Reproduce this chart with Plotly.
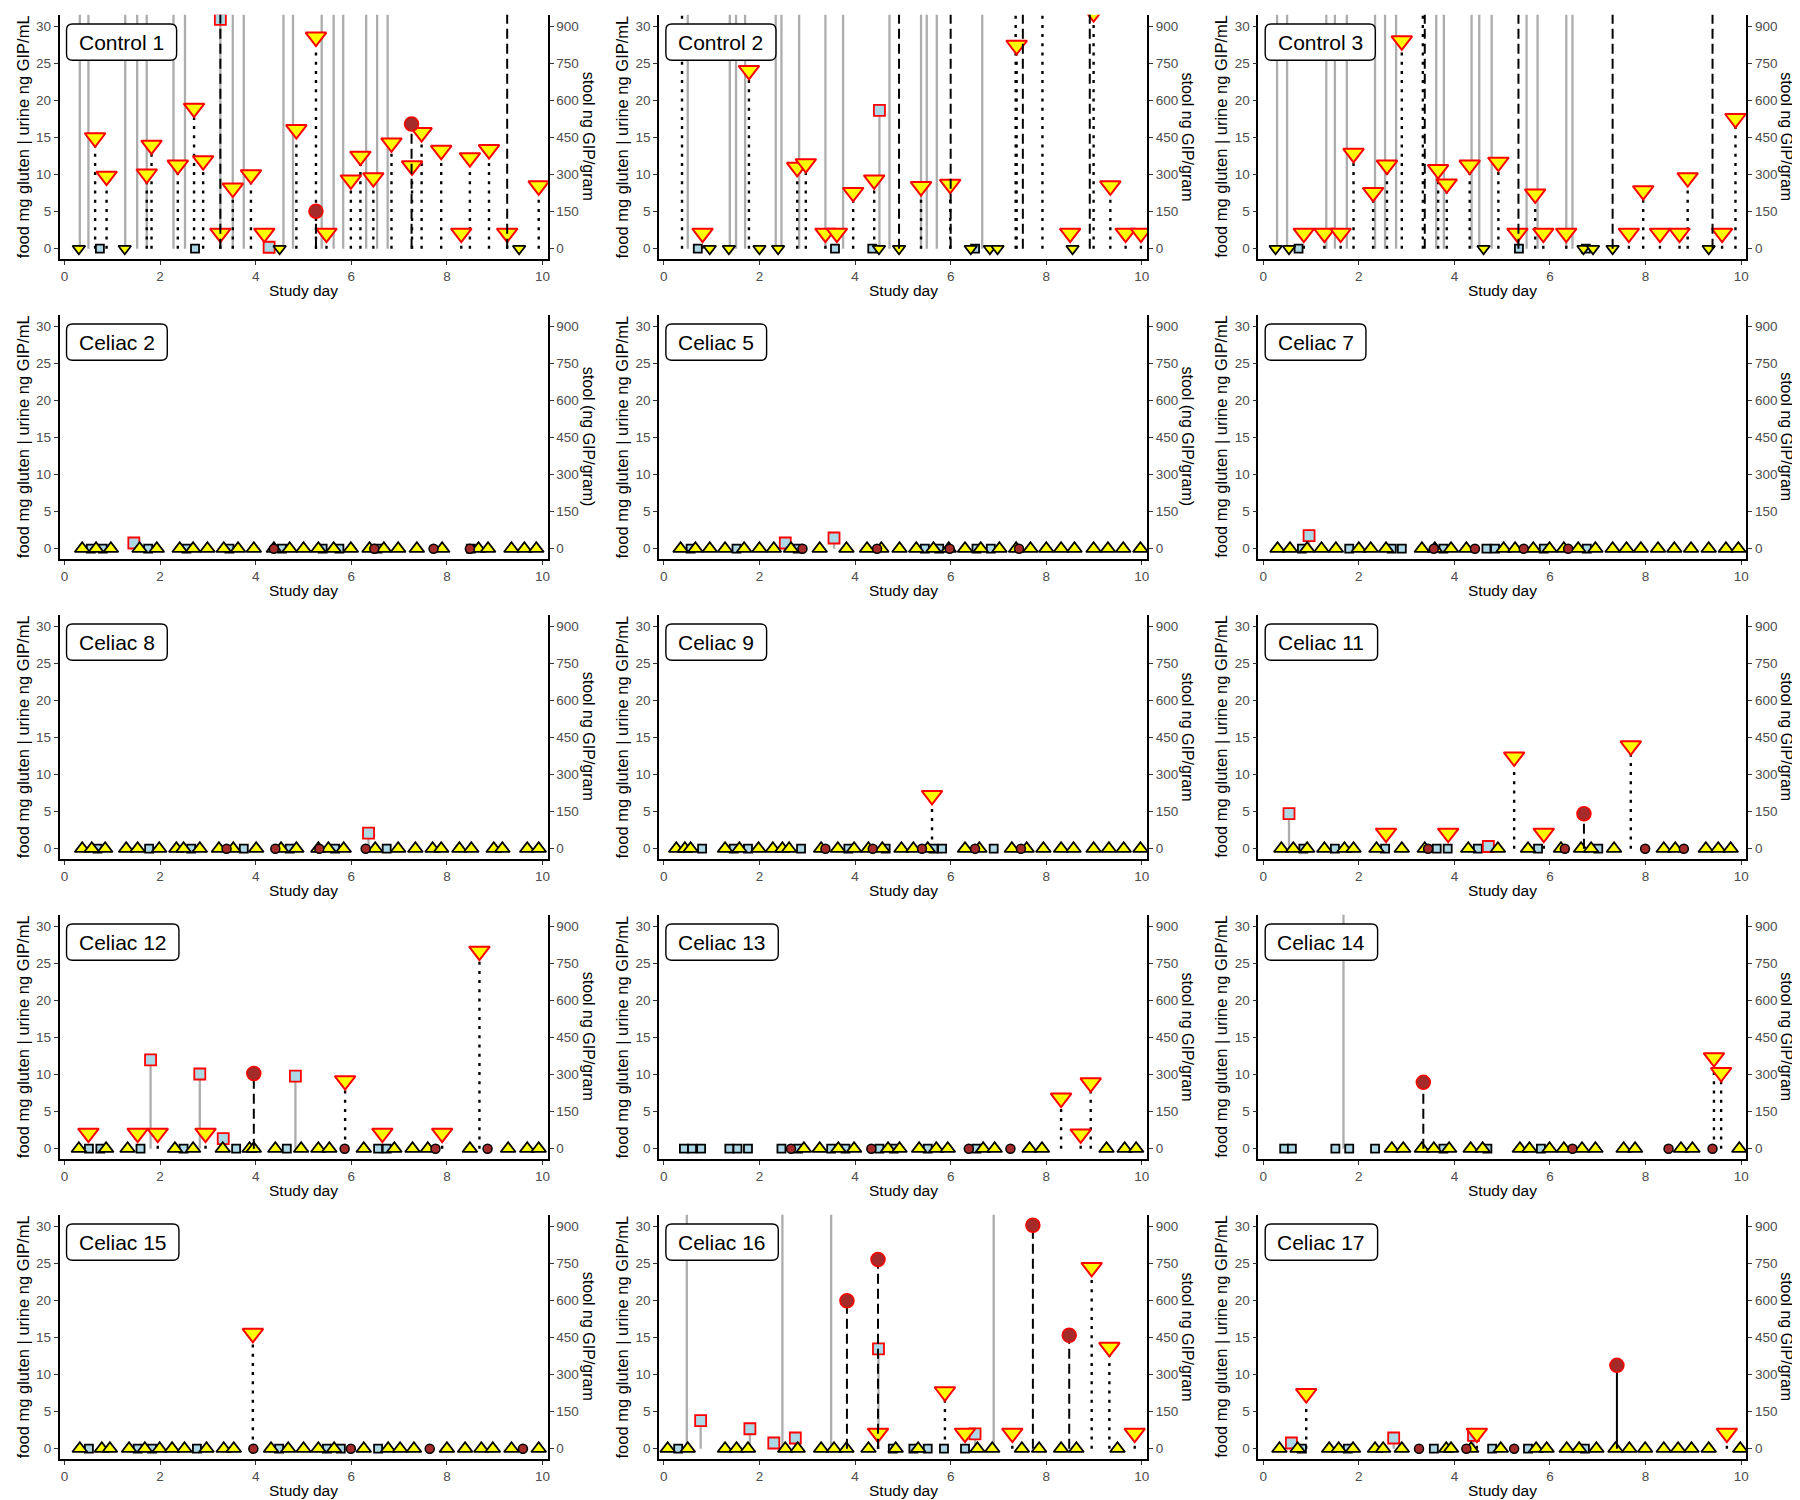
import plotly.graph_objects as go

# ---------------- data ----------------
PANEL_NAMES = ["Control 1", "Control 2", "Control 3",
               "Celiac 2", "Celiac 5", "Celiac 7",
               "Celiac 8", "Celiac 9", "Celiac 11",
               "Celiac 12", "Celiac 13", "Celiac 14",
               "Celiac 15", "Celiac 16", "Celiac 17"]

X_TICKS = [0, 2, 4, 6, 8, 10]
Y_TICKS = [0, 5, 10, 15, 20, 25, 30]
Y2_TICKS = [0, 150, 300, 450, 600, 750, 900]

# Control 1
c1_food_x = [0.64, 0.88, 1.72, 1.82, 2.37, 2.71, 2.90, 3.26, 3.52, 3.90, 4.18, 4.85, 5.26, 5.48, 5.99, 6.19, 6.46, 6.84, 7.27, 7.47, 7.88, 8.30, 8.48, 8.88, 9.26, 9.92]
c1_food_y = [15.0, 9.8, 10.1, 14.0, 11.3, 19.0, 11.9, 2.1, 8.2, 10.0, 2.1, 16.1, 28.6, 2.1, 9.3, 12.5, 9.6, 14.3, 11.2, 15.7, 13.3, 2.1, 12.3, 13.4, 2.1, 8.5]
c1_food_neg = [0.30, 1.26, 4.50, 9.51]
c1_urine_x = [0.32, 0.50, 1.27, 1.52, 1.72, 2.28, 2.52, 3.26, 3.52, 3.75, 4.28, 4.58, 4.78, 5.38, 5.63, 5.83, 6.31, 6.54, 6.76]
c1_urine_y = [40, 40, 40, 40, 40, 40, 40, 31.0, 40, 40, 0.2, 40, 40, 40, 40, 40, 40, 40, 40]
c1_urine_neg = [0.74, 2.73]
c1_stool_x = [3.26, 5.26, 7.26, 9.26]
c1_stool_y = [1200, 152, 506, 1200]
c1_stool_neg = []

# Control 2
c2_food_x = [0.38, 0.81, 1.78, 2.79, 2.97, 3.38, 3.62, 3.96, 4.40, 5.38, 5.99, 7.36, 7.38, 7.92, 8.50, 8.99, 9.34, 9.66, 9.98]
c2_food_y = [40, 2.1, 24.1, 11.0, 11.5, 2.1, 2.1, 7.6, 9.3, 8.4, 8.7, 40, 27.5, 40, 2.1, 31.9, 8.5, 2.1, 2.1]
c2_food_neg = [0.96, 1.36, 2.00, 2.39, 4.50, 4.92, 6.42, 6.82, 6.98, 8.55]
c2_urine_x = [0.50, 1.38, 1.51, 1.70, 2.34, 2.46, 2.83, 3.38, 3.75, 4.51, 4.72, 5.38, 5.50, 5.71, 6.66]
c2_urine_y = [40, 40, 40, 40, 40, 40, 40, 40, 40, 18.7, 40, 40, 40, 40, 40]
c2_urine_neg = [0.71, 3.58, 4.36, 6.51]
c2_stool_x = [4.92, 6.00, 7.51, 8.91]
c2_stool_y = [1200, 1200, 1200, 1200]
c2_stool_neg = []

# Control 3
c3_food_x = [0.85, 1.28, 1.62, 1.89, 2.30, 2.59, 2.90, 3.34, 3.66, 3.84, 4.32, 4.92, 5.32, 5.69, 5.86, 6.34, 7.65, 7.95, 8.30, 8.71, 8.88, 9.60, 9.88]
c3_food_y = [2.1, 2.1, 2.1, 12.9, 7.6, 11.3, 28.1, 40, 10.7, 8.75, 11.3, 11.7, 2.1, 7.4, 2.1, 2.1, 2.1, 7.85, 2.1, 2.1, 9.6, 2.1, 17.6]
c3_food_neg = [0.26, 0.54, 4.61, 6.70, 6.90, 7.31, 9.32]
c3_urine_x = [0.29, 0.50, 1.32, 1.50, 1.75, 2.34, 2.55, 2.78, 3.62, 3.78, 4.36, 4.52, 4.78, 5.51, 5.74, 6.34, 6.47]
c3_urine_y = [40, 40, 40, 40, 40, 40, 40, 40, 40, 40, 40, 40, 40, 40, 40, 40, 40]
c3_urine_neg = [0.74, 5.35, 6.75]
c3_stool_x = [3.38, 5.34, 7.31, 9.40]
c3_stool_y = [1200, 1200, 1200, 1200]
c3_stool_neg = []

# Celiac 2
ce2_food_x = []
ce2_food_y = []
ce2_food_neg = [0.37, 0.66, 0.97, 1.57, 1.93, 2.41, 2.69, 2.99, 3.33, 3.63, 3.96, 4.38, 4.71, 5.00, 5.31, 5.63, 5.99, 6.38, 6.68, 6.98, 7.37, 7.90, 8.66, 8.86, 9.35, 9.62, 9.87]
ce2_urine_x = [1.45]
ce2_urine_y = [0.77]
ce2_urine_neg = [0.55, 0.80, 1.75, 2.55, 3.45, 4.55, 5.40, 5.75, 6.55, 8.50]
ce2_stool_x = []
ce2_stool_y = []
ce2_stool_neg = [4.38, 6.48, 7.72, 8.48]

# Celiac 5
ce5_food_x = []
ce5_food_y = []
ce5_food_neg = [0.35, 0.66, 0.96, 1.28, 1.68, 2.00, 2.30, 2.66, 3.26, 3.82, 4.25, 4.55, 4.93, 5.28, 5.64, 5.96, 6.30, 6.63, 7.02, 7.37, 7.67, 8.00, 8.31, 8.59, 8.99, 9.29, 9.61, 9.97]
ce5_urine_x = [2.54, 3.56]
ce5_urine_y = [0.77, 1.45]
ce5_urine_neg = [0.56, 1.52, 2.80, 5.46, 5.76, 6.54, 6.84]
ce5_stool_x = []
ce5_stool_y = []
ce5_stool_neg = [2.90, 4.46, 5.98, 7.43]

# Celiac 7
ce7_food_x = []
ce7_food_y = []
ce7_food_neg = [0.30, 0.56, 0.92, 1.22, 1.52, 2.00, 2.25, 2.57, 3.32, 3.59, 3.93, 4.25, 5.03, 5.27, 5.65, 5.99, 6.29, 6.59, 6.95, 7.31, 7.60, 7.90, 8.26, 8.60, 8.95, 9.32, 9.68, 9.94]
ce7_urine_x = [0.96]
ce7_urine_y = [1.76]
ce7_urine_neg = [0.81, 1.80, 2.69, 2.90, 3.77, 4.67, 4.85, 5.87, 6.77]
ce7_stool_x = []
ce7_stool_y = []
ce7_stool_neg = [3.57, 4.43, 5.45, 6.38]

# Celiac 8
ce8_food_x = []
ce8_food_y = []
ce8_food_neg = [0.37, 0.57, 0.85, 1.29, 1.53, 1.98, 2.34, 2.49, 2.83, 3.23, 3.53, 4.01, 4.53, 4.85, 5.31, 5.52, 5.84, 6.50, 6.98, 7.34, 7.70, 7.88, 8.26, 8.51, 8.98, 9.16, 9.68, 9.92]
ce8_urine_x = [6.36]
ce8_urine_y = [2.1]
ce8_urine_neg = [0.69, 1.77, 2.65, 3.75, 4.71, 5.66, 6.74]
ce8_stool_x = []
ce8_stool_y = []
ce8_stool_neg = [3.39, 4.41, 5.33, 6.30]

# Celiac 9
ce9_food_x = [5.61]
ce9_food_y = [7.2]
ce9_food_neg = [0.26, 0.44, 0.56, 1.28, 1.58, 1.98, 2.28, 2.48, 2.62, 3.29, 3.64, 3.98, 4.28, 4.57, 4.97, 5.22, 5.52, 6.30, 6.60, 7.28, 7.59, 7.94, 8.31, 8.57, 8.99, 9.31, 9.62, 9.97]
ce9_urine_x = []
ce9_urine_y = []
ce9_urine_neg = [0.80, 1.46, 1.76, 2.87, 3.86, 4.64, 5.64, 5.82, 6.90]
ce9_stool_x = []
ce9_stool_y = []
ce9_stool_neg = [3.38, 4.37, 5.40, 6.51, 7.47]

# Celiac 11
ce11_food_x = [2.57, 3.87, 5.25, 5.87, 7.69]
ce11_food_y = [2.1, 2.1, 12.4, 2.1, 13.9]
ce11_food_neg = [0.38, 0.63, 0.92, 1.28, 1.70, 1.89, 2.37, 2.90, 3.38, 4.29, 4.91, 5.54, 6.23, 6.65, 6.86, 7.34, 8.38, 8.62, 9.26, 9.52, 9.78]
ce11_urine_x = [0.54, 4.71]
ce11_urine_y = [4.74, 0.3]
ce11_urine_neg = [0.84, 1.50, 2.55, 3.63, 3.86, 4.49, 5.75, 7.01]
ce11_stool_x = [6.71]
ce11_stool_y = [142]
ce11_stool_neg = [3.45, 6.31, 7.99, 8.80]

# Celiac 12
ce12_food_x = [0.50, 1.53, 1.95, 2.95, 5.87, 6.65, 7.90, 8.68]
ce12_food_y = [2.1, 2.1, 2.1, 2.1, 9.2, 2.1, 2.1, 26.7]
ce12_food_neg = [0.30, 0.87, 1.32, 2.31, 2.69, 3.31, 3.87, 3.96, 4.41, 4.95, 5.31, 5.54, 6.26, 6.90, 7.28, 7.60, 8.48, 9.28, 9.68, 9.92]
ce12_urine_x = [1.80, 2.83, 3.32, 4.83]
ce12_urine_y = [12.0, 10.1, 1.35, 9.8]
ce12_urine_neg = [0.51, 0.75, 1.59, 2.49, 3.59, 4.65, 6.56, 6.74]
ce12_stool_x = [3.96]
ce12_stool_y = [305]
ce12_stool_neg = [5.86, 7.76, 8.85]

# Celiac 13
ce13_food_x = [8.31, 8.72, 8.93]
ce13_food_y = [6.85, 2.0, 8.9]
ce13_food_neg = [2.93, 3.26, 3.65, 3.98, 4.69, 4.93, 5.34, 5.70, 5.94, 6.68, 6.92, 7.65, 7.91, 9.26, 9.64, 9.88]
ce13_urine_x = []
ce13_urine_y = []
ce13_urine_neg = [0.42, 0.59, 0.78, 1.37, 1.54, 1.76, 2.46, 2.81, 3.50, 3.80, 4.51, 4.81, 5.52, 6.54]
ce13_stool_x = []
ce13_stool_y = []
ce13_stool_neg = [2.66, 4.34, 6.38, 7.25]

# Celiac 14
ce14_food_x = [9.43, 9.58]
ce14_food_y = [12.3, 10.3]
ce14_food_neg = [2.69, 2.93, 3.32, 3.57, 3.89, 4.34, 4.59, 5.37, 5.57, 5.99, 6.29, 6.67, 6.95, 7.54, 7.78, 8.74, 8.98, 9.96]
ce14_urine_x = [1.68]
ce14_urine_y = [40]
ce14_urine_neg = [0.44, 0.60, 1.51, 1.80, 2.34, 3.77, 4.69, 5.81]
ce14_stool_x = [3.35]
ce14_stool_y = [269]
ce14_stool_neg = [6.47, 8.48, 9.40]

# Celiac 15
ce15_food_x = [3.94]
ce15_food_y = [15.6]
ce15_food_neg = [0.32, 0.78, 0.95, 1.35, 1.68, 1.99, 2.25, 2.51, 2.97, 3.33, 3.54, 4.32, 4.68, 5.00, 5.31, 5.64, 6.26, 6.77, 7.02, 7.31, 8.00, 8.38, 8.72, 8.96, 9.35, 9.92]
ce15_urine_x = []
ce15_urine_y = []
ce15_urine_neg = [0.51, 1.53, 1.83, 2.77, 4.49, 5.49, 5.78, 6.56]
ce15_stool_x = []
ce15_stool_y = []
ce15_stool_neg = [3.95, 5.99, 7.64, 9.59]

# Celiac 16
ce16_food_x = [4.48, 5.88, 6.30, 7.29, 8.95, 9.32, 9.85]
ce16_food_y = [2.1, 7.7, 2.1, 2.1, 24.5, 13.7, 2.1]
ce16_food_neg = [0.08, 0.50, 1.28, 1.52, 1.76, 2.54, 2.80, 3.29, 3.56, 3.82, 4.28, 4.85, 5.32, 6.56, 6.87, 7.49, 7.85, 8.31, 8.63, 9.49]
ce16_urine_x = [0.48, 0.77, 1.80, 2.30, 2.48, 2.75, 3.50, 4.49, 6.51, 6.90]
ce16_urine_y = [40, 3.8, 2.7, 0.77, 40, 1.45, 40, 13.5, 2.0, 40]
ce16_urine_neg = [0.30, 4.79, 5.22, 5.52, 5.86, 6.30]
ce16_stool_x = [3.83, 4.48, 7.72, 8.48]
ce16_stool_y = [600, 767, 906, 460]
ce16_stool_neg = []

# Celiac 17
ce17_food_x = [0.90, 4.47, 9.70]
ce17_food_y = [7.45, 2.1, 2.1]
ce17_food_neg = [0.34, 0.72, 1.38, 1.58, 1.88, 2.34, 2.51, 2.90, 3.83, 3.93, 4.35, 4.97, 5.71, 5.93, 6.35, 6.61, 6.97, 7.37, 7.66, 7.99, 8.38, 8.68, 8.96, 9.32, 9.98]
ce17_urine_x = [0.59, 2.73, 4.40]
ce17_urine_y = [0.77, 1.45, 1.8]
ce17_urine_neg = [0.81, 1.77, 3.57, 4.79, 5.54, 6.73]
ce17_stool_x = [7.40]
ce17_stool_y = [338]
ce17_stool_neg = [3.26, 4.25, 5.25]

RIGHT_TITLES = {"Celiac 2": "stool (ng GIP/gram)", "Celiac 5": "stool (ng GIP/gram)"}
DEFAULT_RIGHT_TITLE = "stool ng GIP/gram"

PANELS = [
    (c1_food_x, c1_food_y, c1_food_neg, c1_urine_x, c1_urine_y, c1_urine_neg, c1_stool_x, c1_stool_y, c1_stool_neg),
    (c2_food_x, c2_food_y, c2_food_neg, c2_urine_x, c2_urine_y, c2_urine_neg, c2_stool_x, c2_stool_y, c2_stool_neg),
    (c3_food_x, c3_food_y, c3_food_neg, c3_urine_x, c3_urine_y, c3_urine_neg, c3_stool_x, c3_stool_y, c3_stool_neg),
    (ce2_food_x, ce2_food_y, ce2_food_neg, ce2_urine_x, ce2_urine_y, ce2_urine_neg, ce2_stool_x, ce2_stool_y, ce2_stool_neg),
    (ce5_food_x, ce5_food_y, ce5_food_neg, ce5_urine_x, ce5_urine_y, ce5_urine_neg, ce5_stool_x, ce5_stool_y, ce5_stool_neg),
    (ce7_food_x, ce7_food_y, ce7_food_neg, ce7_urine_x, ce7_urine_y, ce7_urine_neg, ce7_stool_x, ce7_stool_y, ce7_stool_neg),
    (ce8_food_x, ce8_food_y, ce8_food_neg, ce8_urine_x, ce8_urine_y, ce8_urine_neg, ce8_stool_x, ce8_stool_y, ce8_stool_neg),
    (ce9_food_x, ce9_food_y, ce9_food_neg, ce9_urine_x, ce9_urine_y, ce9_urine_neg, ce9_stool_x, ce9_stool_y, ce9_stool_neg),
    (ce11_food_x, ce11_food_y, ce11_food_neg, ce11_urine_x, ce11_urine_y, ce11_urine_neg, ce11_stool_x, ce11_stool_y, ce11_stool_neg),
    (ce12_food_x, ce12_food_y, ce12_food_neg, ce12_urine_x, ce12_urine_y, ce12_urine_neg, ce12_stool_x, ce12_stool_y, ce12_stool_neg),
    (ce13_food_x, ce13_food_y, ce13_food_neg, ce13_urine_x, ce13_urine_y, ce13_urine_neg, ce13_stool_x, ce13_stool_y, ce13_stool_neg),
    (ce14_food_x, ce14_food_y, ce14_food_neg, ce14_urine_x, ce14_urine_y, ce14_urine_neg, ce14_stool_x, ce14_stool_y, ce14_stool_neg),
    (ce15_food_x, ce15_food_y, ce15_food_neg, ce15_urine_x, ce15_urine_y, ce15_urine_neg, ce15_stool_x, ce15_stool_y, ce15_stool_neg),
    (ce16_food_x, ce16_food_y, ce16_food_neg, ce16_urine_x, ce16_urine_y, ce16_urine_neg, ce16_stool_x, ce16_stool_y, ce16_stool_neg),
    (ce17_food_x, ce17_food_y, ce17_food_neg, ce17_urine_x, ce17_urine_y, ce17_urine_neg, ce17_stool_x, ce17_stool_y, ce17_stool_neg),
]

# ---------------- styles / layout ----------------
W, H = 1800, 1500
PW, PH = 600, 300                 # panel cell size in px
AX_L, AX_R = 51.7, 540.4          # plot area (px, panel-relative)
AX_T, AX_B = 6.7, 250.7
X_RANGE = [-0.102, 10.11]
Y_RANGE = [-1.35, 31.63]
STOOL_SCALE = 30
FONT = "Liberation Sans, Arial, sans-serif"
YELLOW, RED, LBLUE, BROWN, GREY = "#FFFF00", "#FF0000", "#ADD8E6", "#A52A2A", "#ADADAD"
STOOL_DASH = {"Celiac 17": "solid"}
DOTTED = "3px,6.2px"
DASHED = "10px,5px"

CW = {'C': .722, 'o': .556, 'n': .556, 't': .278, 'r': .333, 'l': .222, 'e': .556,
      'i': .222, 'a': .556, 'c': .5, ' ': .278}


def text_em(s):
    return sum(CW.get(ch, .556) for ch in s)


def vlines(xs, ys):
    lx, ly = [], []
    for x, y in zip(xs, ys):
        lx += [x, x, None]
        ly += [0, y, None]
    return lx, ly


def px2paper_x(px):
    return px / W


def px2paper_y(py):
    return 1 - py / H


fig = go.Figure()
layout = dict(width=W, height=H, margin=dict(l=0, r=0, t=0, b=0),
              paper_bgcolor="white", plot_bgcolor="white", showlegend=False,
              font=dict(family=FONT))
annotations, shapes = [], []

for i, name in enumerate(PANEL_NAMES):
    r, c = divmod(i, 3)
    n = i + 1
    n2 = n + 15
    xa = "x" if n == 1 else f"x{n}"
    ya = "y" if n == 1 else f"y{n}"
    ya2 = f"y{n2}"
    food_x, food_y, food_neg, urine_x, urine_y, urine_neg, stool_x, stool_y, stool_neg = PANELS[i]
    is_control = name.startswith("Control")

    ox, oy = c * PW, r * PH
    xdom = [px2paper_x(ox + AX_L), px2paper_x(ox + AX_R)]
    ydom = [px2paper_y(oy + AX_B), px2paper_y(oy + AX_T)]

    axis_common = dict(showgrid=False, zeroline=False, showline=True, linecolor="black",
                       linewidth=1.6, ticks="outside", ticklen=4, tickwidth=1.2,
                       tickcolor="#333333", tickfont=dict(size=13.5, color="#4D4D4D", family=FONT))
    layout["xaxis" if n == 1 else f"xaxis{n}"] = dict(
        domain=xdom, range=X_RANGE, anchor=ya, tickvals=X_TICKS, **axis_common)
    layout["yaxis" if n == 1 else f"yaxis{n}"] = dict(
        domain=ydom, range=Y_RANGE, anchor=xa, tickvals=Y_TICKS, **axis_common)
    layout[f"yaxis{n2}"] = dict(
        range=[Y_RANGE[0] * STOOL_SCALE, Y_RANGE[1] * STOOL_SCALE], anchor=xa,
        overlaying=ya, side="right", tickvals=Y2_TICKS, **axis_common)

    # --- vertical lines ---
    lx, ly = vlines(urine_x, urine_y)
    fig.add_trace(go.Scatter(x=lx, y=ly, mode="lines", xaxis=xa, yaxis=ya,
                             line=dict(color=GREY, width=2.3), hoverinfo="skip"))
    lx, ly = vlines(food_x, food_y)
    fig.add_trace(go.Scatter(x=lx, y=ly, mode="lines", xaxis=xa, yaxis=ya,
                             line=dict(color="black", width=2.4, dash=DOTTED), hoverinfo="skip"))

    # --- urine squares ---
    fig.add_trace(go.Scatter(x=urine_neg, y=[0] * len(urine_neg), mode="markers", xaxis=xa, yaxis=ya,
                             marker=dict(symbol="square", size=8, color=LBLUE,
                                         line=dict(color="black", width=1.8))))
    fig.add_trace(go.Scatter(x=urine_x, y=urine_y, mode="markers", xaxis=xa, yaxis=ya,
                             marker=dict(symbol="square", size=11, color=LBLUE,
                                         line=dict(color=RED, width=1.8))))
    # --- food triangles ---
    fig.add_trace(go.Scatter(x=food_neg, y=[0] * len(food_neg), mode="markers", xaxis=xa, yaxis=ya,
                             marker=dict(symbol="triangle-down" if is_control else "triangle-up",
                                         size=11 if is_control else 13, color=YELLOW,
                                         line=dict(color="black", width=1.8))))
    fig.add_trace(go.Scatter(x=food_x, y=food_y, mode="markers", xaxis=xa, yaxis=ya,
                             marker=dict(symbol="triangle-down", size=18, color=YELLOW,
                                         line=dict(color=RED, width=2))))

    # --- stool (right axis) ---
    lx, ly = vlines(stool_x, stool_y)
    fig.add_trace(go.Scatter(x=lx, y=ly, mode="lines", xaxis=xa, yaxis=ya2,
                             line=dict(color="black", width=2, dash=STOOL_DASH.get(name, DASHED)),
                             hoverinfo="skip"))
    fig.add_trace(go.Scatter(x=stool_neg, y=[0] * len(stool_neg), mode="markers", xaxis=xa, yaxis=ya2,
                             marker=dict(symbol="circle", size=9, color=BROWN,
                                         line=dict(color="black", width=1.5))))
    fig.add_trace(go.Scatter(x=stool_x, y=stool_y, mode="markers", xaxis=xa, yaxis=ya2,
                             marker=dict(symbol="circle", size=14, color=BROWN,
                                         line=dict(color=RED, width=1.5))))

    # --- titles ---
    annotations.append(dict(text="Study day", x=px2paper_x(ox + (AX_L + AX_R) / 2),
                            y=px2paper_y(oy + 282.7), xref="paper", yref="paper",
                            showarrow=False, xanchor="center", yanchor="middle",
                            font=dict(size=15.5, color="black", family=FONT)))
    annotations.append(dict(text="food mg gluten | urine ng GIP/mL", x=px2paper_x(ox + 14.5),
                            y=px2paper_y(oy + (AX_T + AX_B) / 2), xref="paper", yref="paper",
                            showarrow=False, textangle=-90, xanchor="center", yanchor="middle",
                            font=dict(size=16.5, color="black", family=FONT)))
    annotations.append(dict(text=RIGHT_TITLES.get(name, DEFAULT_RIGHT_TITLE), x=px2paper_x(ox + 580.5),
                            y=px2paper_y(oy + (AX_T + AX_B) / 2), xref="paper", yref="paper",
                            showarrow=False, textangle=90, xanchor="center", yanchor="middle",
                            font=dict(size=16, color="black", family=FONT)))

    # --- rounded label box ---
    bw = text_em(name) * 21 + 25
    bh = 36.3
    bx0 = ox + AX_L + 6.9
    by0 = oy + 16
    bx1, by1 = bx0 + bw, by0 + bh
    rr = 6
    P = lambda px, py: f"{px2paper_x(px):.6f},{px2paper_y(py):.6f}"
    path = (f"M {P(bx0 + rr, by0)} L {P(bx1 - rr, by0)} Q {P(bx1, by0)} {P(bx1, by0 + rr)} "
            f"L {P(bx1, by1 - rr)} Q {P(bx1, by1)} {P(bx1 - rr, by1)} "
            f"L {P(bx0 + rr, by1)} Q {P(bx0, by1)} {P(bx0, by1 - rr)} "
            f"L {P(bx0, by0 + rr)} Q {P(bx0, by0)} {P(bx0 + rr, by0)} Z")
    shapes.append(dict(type="path", path=path, xref="paper", yref="paper",
                       fillcolor="white", line=dict(color="black", width=1.4), layer="above"))
    annotations.append(dict(text=name, x=px2paper_x((bx0 + bx1) / 2), y=px2paper_y((by0 + by1) / 2),
                            xref="paper", yref="paper", showarrow=False,
                            xanchor="center", yanchor="middle",
                            font=dict(size=21, color="black", family=FONT)))

layout["annotations"] = annotations
layout["shapes"] = shapes
fig.update_layout(**layout)
fig.write_html("out.html")
